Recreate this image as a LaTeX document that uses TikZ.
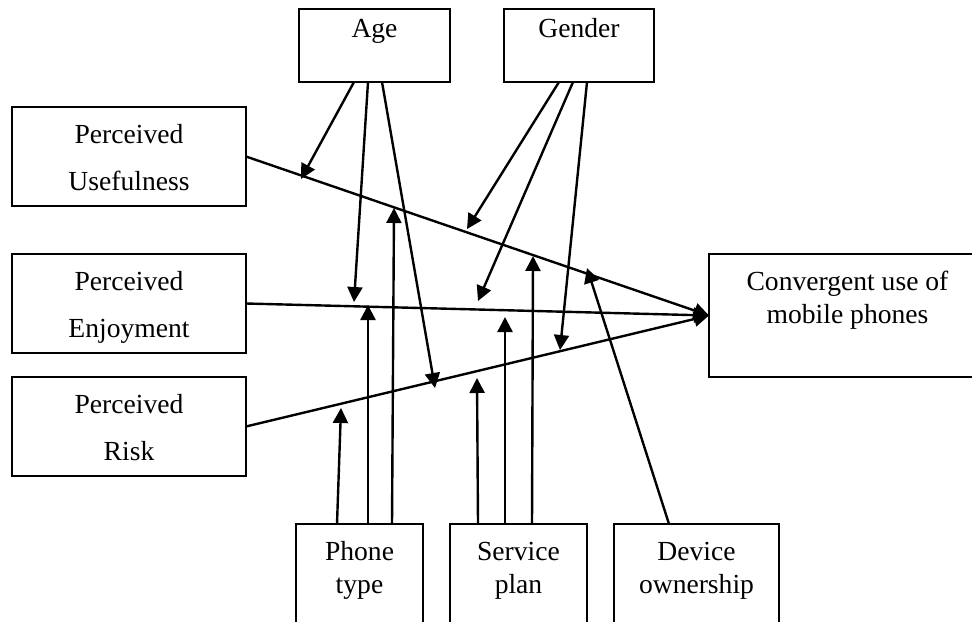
\documentclass[tikz,border=0pt]{standalone}
\usepackage{fontspec}
\setmainfont{Liberation Serif}
\usetikzlibrary{arrows.meta, positioning, calc}
\tikzset{
  cvbox/.style={
    draw, line width=1pt, inner xsep=0pt, inner ysep=0pt, outer sep=0pt,
    anchor=north, align=center, font=\fontsize{13.8}{16.5}\selectfont
  },
  topbox/.style={cvbox, text height=14pt, text depth=22.5pt},
  pbox/.style={cvbox, minimum width=117pt, font=\fontsize{13.8}{23.5}\selectfont,
    text height=41.5pt, text depth=8pt},
  botbox/.style={cvbox, text height=34.5pt, text depth=30pt},
  link/.style={-{Triangle[length=7.5pt, width=7.5pt]}, line width=1.2pt}
}
\begin{document}
\begin{tikzpicture}[x=0.5pt, y=-0.5pt]
  \useasboundingbox (0,0) rectangle (972,621);
  \clip (0,0) rectangle (972,621);
  % moderators
  \node[topbox, minimum width=75.5pt] (age) at (374.5,9) {Age};
  \node[topbox, minimum width=75pt, right=27pt of age] (gen) {Gender};
  % predictors
  \node[pbox] (pu) at (129,107) {Perceived\\Usefulness};
  \node[pbox, below=24pt of pu] (pe) {Perceived\\Enjoyment};
  \node[pbox, below=12pt of pe] (pr) {Perceived\\Risk};
  % outcome
  \node[cvbox, minimum width=138.5pt, text height=34.5pt, text depth=27pt] (conv) at (847.5,254) {Convergent use of\\mobile phones};
  % controls
  \node[botbox, minimum width=63.5pt] (ph) at (359.5,524) {Phone\\type};
  \node[botbox, minimum width=68.5pt, right=13.5pt of ph] (sp) {Service\\plan};
  \node[botbox, minimum width=82.5pt, right=13.5pt of sp] (do) {Device\\ownership};
  % arrow ends on the paths
  \coordinate (agePU) at (301,179);
  \coordinate (agePE) at (354,302);
  \coordinate (agePR) at (435,388);
  \coordinate (genPU) at (467,229);
  \coordinate (genPE) at (478,301);
  \coordinate (genPR) at (560,350);
  \coordinate (phPR) at (341,408);
  \coordinate (phPE) at (368,305);
  \coordinate (phPU) at (394,208);
  \coordinate (spPR) at (477,378);
  \coordinate (spPE) at (505,317);
  \coordinate (spPU) at (533,256);
  \coordinate (doPU) at (587,268);
  % main paths
  \draw[link] (pu.east) -- (conv.west);
  \draw[link] (pe.east) -- (conv.west);
  \draw[link] (pr.east) -- (conv.west);
  % moderating effects
  \draw[link] ([xshift=-10.25pt]age.south) -- (agePU);
  \draw[link] ([xshift=-3.25pt]age.south) -- (agePE);
  \draw[link] ([xshift=3.75pt]age.south) -- (agePR);
  \draw[link] ([xshift=-10pt]gen.south) -- (genPU);
  \draw[link] ([xshift=-3pt]gen.south) -- (genPE);
  \draw[link] ([xshift=4pt]gen.south) -- (genPR);
  \draw[link] ([xshift=-11.25pt]ph.north) -- (phPR);
  \draw[link] ([xshift=4.25pt]ph.north) -- (phPE);
  \draw[link] ([xshift=16.25pt]ph.north) -- (phPU);
  \draw[link] ([xshift=-20.25pt]sp.north) -- (spPR);
  \draw[link] ([xshift=-6.75pt]sp.north) -- (spPE);
  \draw[link] ([xshift=6.75pt]sp.north) -- (spPU);
  \draw[link] ([xshift=-13.75pt]do.north) -- (doPU);
\end{tikzpicture}
\end{document}
